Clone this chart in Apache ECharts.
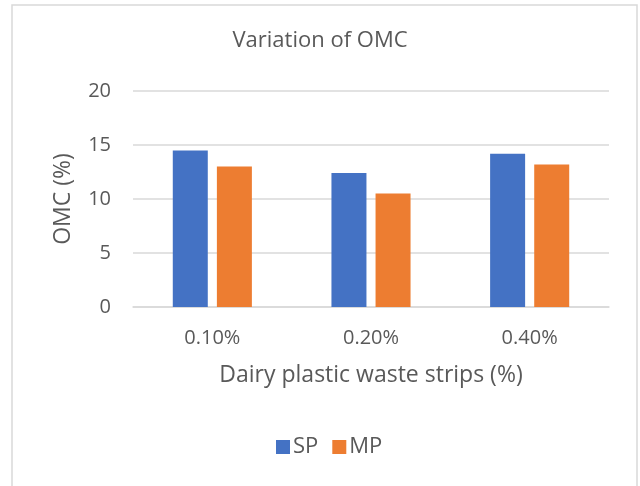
<!DOCTYPE html>
<html>
<head>
<meta charset="utf-8">
<script src="https://cdn.jsdelivr.net/npm/echarts@6/dist/echarts.min.js"></script>
<style>
  html, body { margin: 0; padding: 0; background: #fff; }
  #chart { width: 640px; height: 486px; }
</style>
</head>
<body>
<div id="chart"></div>
<script>
var categories = ['0.10%', '0.20%', '0.40%'];
var spValues = [14.5, 12.4, 14.2];
var mpValues = [13.0, 10.5, 13.2];
var seriesNames = ['SP', 'MP'];
var seriesColors = ['#4472C4', '#ED7D31'];

var chart = echarts.init(document.getElementById('chart'));
var textColor = '#595959';
var fontFamily = '"Open Sans", sans-serif';

var option = {
  animation: false,
  textStyle: { fontFamily: fontFamily },
  graphic: [{
    type: 'rect',
    shape: { x: 12, y: 5, width: 625, height: 490 },
    style: { fill: 'none', stroke: '#d9d9d9', lineWidth: 1.5 },
    silent: true
  }],
  title: {
    text: 'Variation of OMC',
    left: 'center',
    top: 25,
    textStyle: { color: textColor, fontSize: 22, fontWeight: 'normal', fontFamily: fontFamily }
  },
  legend: {
    data: seriesNames,
    bottom: 28,
    left: 276,
    padding: 0,
    itemWidth: 14,
    itemHeight: 14,
    itemGap: 14,
    icon: 'rect',
    textStyle: { color: textColor, fontSize: 22, fontFamily: fontFamily, padding: [0, 0, 0, -2] }
  },
  grid: { left: 133, right: 31, top: 91, bottom: 179 },
  xAxis: {
    type: 'category',
    data: categories,
    name: 'Dairy plastic waste strips (%)',
    nameLocation: 'middle',
    nameGap: 57,
    nameTextStyle: { color: textColor, fontSize: 23, fontFamily: fontFamily },
    axisLine: { lineStyle: { color: '#d9d9d9', width: 1.5 } },
    axisTick: { show: false },
    axisLabel: { color: textColor, fontSize: 20, margin: 21, fontFamily: fontFamily }
  },
  yAxis: {
    type: 'value',
    min: 0,
    max: 20,
    interval: 5,
    name: 'OMC (%)',
    nameLocation: 'middle',
    nameGap: 58,
    nameTextStyle: { color: textColor, fontSize: 23, fontFamily: fontFamily },
    axisLine: { show: false },
    axisTick: { show: false },
    axisLabel: { color: textColor, fontSize: 20, margin: 22, fontFamily: fontFamily },
    splitLine: { lineStyle: { color: '#d9d9d9', width: 1.5 } }
  },
  series: [
    {
      name: seriesNames[0],
      type: 'bar',
      data: spValues,
      barWidth: 35,
      barGap: '26%',
      itemStyle: { color: seriesColors[0] }
    },
    {
      name: seriesNames[1],
      type: 'bar',
      data: mpValues,
      barWidth: 35,
      barGap: '26%',
      itemStyle: { color: seriesColors[1] }
    }
  ]
};

chart.setOption(option);
</script>
</body>
</html>
